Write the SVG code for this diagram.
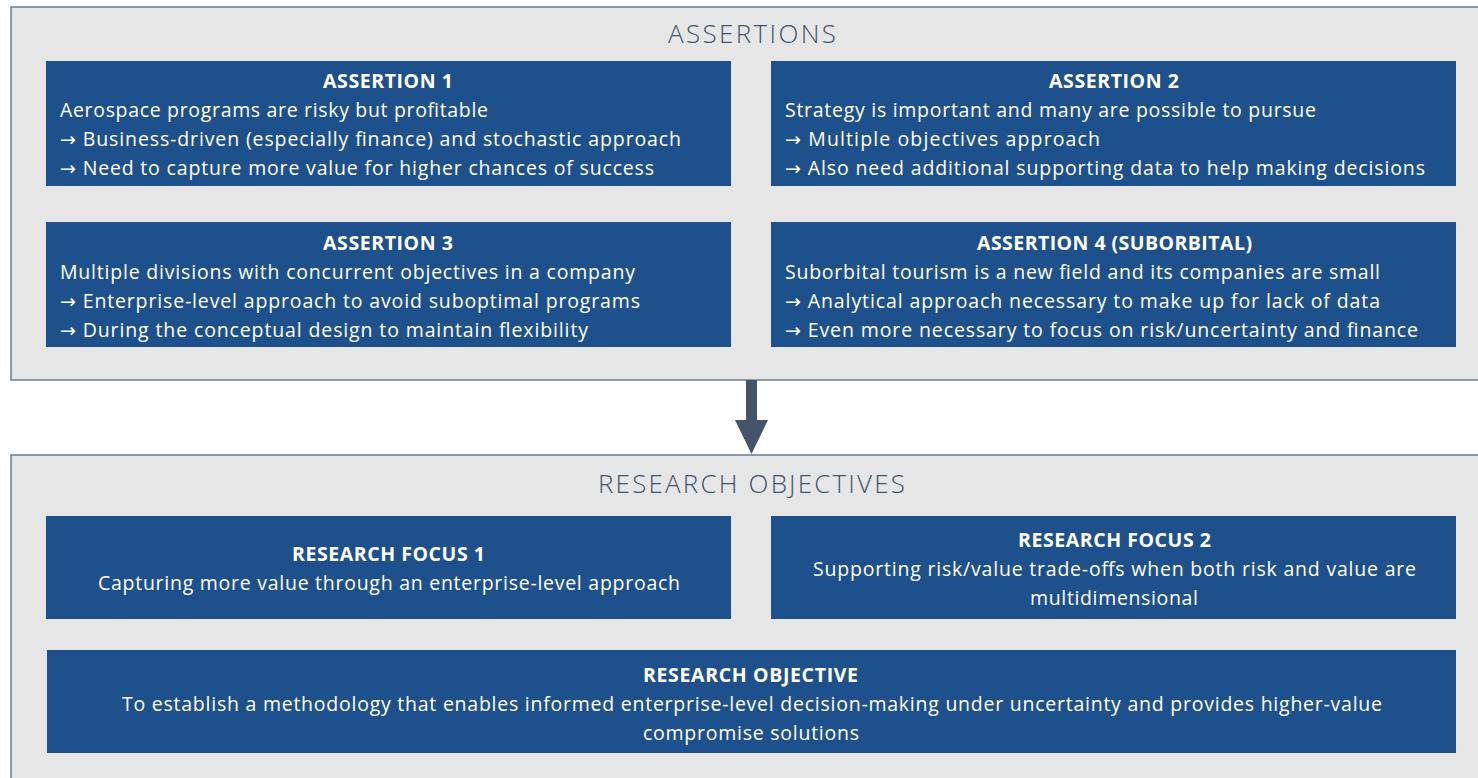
<svg xmlns="http://www.w3.org/2000/svg" width="1478" height="778" viewBox="0 0 1478 778">
<style>
.panel{fill:#e6e6e6;stroke:#6e7b8f;stroke-width:1.5}
.box{fill:#1e518c}
.h{font-family:"Open Sans","Liberation Sans",sans-serif;font-size:26px;fill:#44546a;text-anchor:middle;font-weight:300}
.t{font-family:"Open Sans","Liberation Sans",sans-serif;font-size:19.5px;fill:#ffffff}
.b{font-weight:bold;text-anchor:middle}
.c{text-anchor:middle}
.ar{font-family:"DejaVu Sans",sans-serif;font-size:19px}
</style>
<rect width="1478" height="778" fill="#ffffff"/>
<g id="assertions">
<rect class="panel" x="11" y="7" width="1480" height="373"/>
<text class="h" x="752" y="43" textLength="168">ASSERTIONS</text>
</g>
<g id="assertion1">
<rect class="box" x="46" y="61" width="685" height="125"/>
<text class="t b" x="388" y="88" textLength="130">ASSERTION 1</text>
<text class="t" x="60" y="117" textLength="428">Aerospace programs are risky but profitable</text>
<text class="t" x="60" y="146" textLength="621"><tspan class="ar">→</tspan> Business-driven (especially finance) and stochastic approach</text>
<text class="t" x="60" y="175" textLength="594"><tspan class="ar">→</tspan> Need to capture more value for higher chances of success</text>
</g>
<g id="assertion2">
<rect class="box" x="771" y="61" width="685" height="125"/>
<text class="t b" x="1114" y="88" textLength="130">ASSERTION 2</text>
<text class="t" x="785" y="117" textLength="531">Strategy is important and many are possible to pursue</text>
<text class="t" x="785" y="146" textLength="315"><tspan class="ar">→</tspan> Multiple objectives approach</text>
<text class="t" x="785" y="175" textLength="640"><tspan class="ar">→</tspan> Also need additional supporting data to help making decisions</text>
</g>
<g id="assertion3">
<rect class="box" x="46" y="222" width="685" height="125"/>
<text class="t b" x="388" y="250" textLength="130">ASSERTION 3</text>
<text class="t" x="60" y="279" textLength="575">Multiple divisions with concurrent objectives in a company</text>
<text class="t" x="60" y="308" textLength="580"><tspan class="ar">→</tspan> Enterprise-level approach to avoid suboptimal programs</text>
<text class="t" x="60" y="337" textLength="528"><tspan class="ar">→</tspan> During the conceptual design to maintain flexibility</text>
</g>
<g id="assertion4">
<rect class="box" x="771" y="222" width="685" height="125"/>
<text class="t b" x="1114.5" y="250" textLength="275">ASSERTION 4 (SUBORBITAL)</text>
<text class="t" x="785" y="279" textLength="595">Suborbital tourism is a new field and its companies are small</text>
<text class="t" x="785" y="308" textLength="595"><tspan class="ar">→</tspan> Analytical approach necessary to make up for lack of data</text>
<text class="t" x="785" y="337" textLength="633"><tspan class="ar">→</tspan> Even more necessary to focus on risk/uncertainty and finance</text>
</g>
<g id="connectors">
<path d="M746 380 H757 V420 H768 L751.5 454 L735 420 H746 Z" fill="#44546a"/>
</g>
<g id="research-objectives">
<rect class="panel" x="11" y="455" width="1480" height="340"/>
<text class="h" x="751.5" y="493" textLength="307">RESEARCH OBJECTIVES</text>
</g>
<g id="focus1">
<rect class="box" x="46" y="516" width="685" height="103"/>
<text class="t b" x="388.5" y="561" textLength="193">RESEARCH FOCUS 1</text>
<text class="t c" x="389" y="590" textLength="582">Capturing more value through an enterprise-level approach</text>
</g>
<g id="focus2">
<rect class="box" x="771" y="516" width="685" height="103"/>
<text class="t b" x="1114.5" y="547" textLength="193">RESEARCH FOCUS 2</text>
<text class="t c" x="1114.5" y="576" textLength="603">Supporting risk/value trade-offs when both risk and value are</text>
<text class="t c" x="1114" y="605" textLength="168">multidimensional</text>
</g>
<g id="objective">
<rect class="box" x="47" y="650" width="1409" height="103"/>
<text class="t b" x="750.5" y="682" textLength="215">RESEARCH OBJECTIVE</text>
<text class="t c" x="752" y="711" textLength="1260">To establish a methodology that enables informed enterprise-level decision-making under uncertainty and provides higher-value</text>
<text class="t c" x="751" y="740" textLength="216">compromise solutions</text>
</g>
</svg>
